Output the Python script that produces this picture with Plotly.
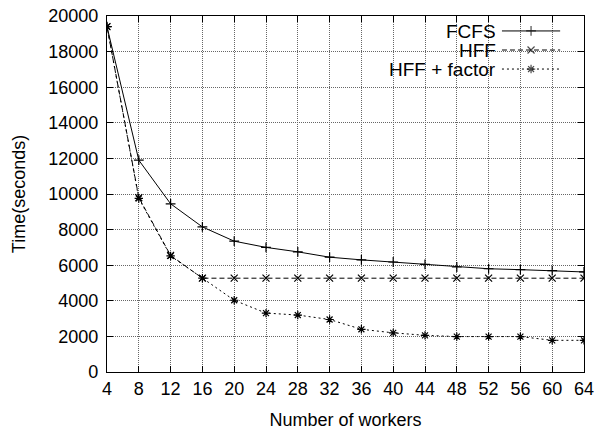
import plotly.graph_objects as go

# Number of worker processes
workers = [4, 8, 12, 16, 20, 24, 28, 32, 36, 40, 44, 48, 52, 56, 60, 64]

# Total completion time (seconds) for each scheduling policy
fcfs = [19400, 11900, 9450, 8150, 7350, 7000, 6750, 6450, 6300, 6180,
        6050, 5900, 5800, 5750, 5700, 5620]
hff = [19400, 9800, 6550, 5270, 5270, 5270, 5270, 5270, 5270, 5270,
       5270, 5270, 5270, 5270, 5270, 5270]
hff_factor = [19400, 9750, 6520, 5270, 4030, 3310, 3200, 2950, 2400, 2200,
              2060, 1990, 1990, 1990, 1780, 1780]

series_names = ["FCFS", "HFF", "HFF + factor"]
series_values = [fcfs, hff, hff_factor]
x_ticks = list(range(4, 65, 4))
y_ticks = list(range(0, 20001, 2000))

styles = [
    dict(dash="solid", symbol="cross-thin"),
    dict(dash="5px,3px", symbol="x-thin"),
    dict(dash="2px,3px", symbol="asterisk"),
]

FONT = "Liberation Sans, Arial, Helvetica, sans-serif"

fig = go.Figure()

for name, vals, st in zip(series_names, series_values, styles):
    fig.add_trace(go.Scatter(
        x=workers, y=vals, name=name, mode="lines+markers",
        line=dict(color="black", width=1, dash=st["dash"]),
        marker=dict(symbol=st["symbol"], size=7, color="black",
                    line=dict(color="black", width=1.2)),
        showlegend=False,
    ))

# Key in the upper right: label on the left, line sample on the right
key_rows = [0.958, 0.9045, 0.851]
for name, st, ky in zip(series_names, styles, key_rows):
    fig.add_trace(go.Scatter(
        x=[0.828, 0.889, 0.950], y=[ky, ky, ky], mode="lines+markers",
        xaxis="x2", yaxis="y2",
        line=dict(color="black", width=1, dash=st["dash"]),
        marker=dict(symbol=st["symbol"], size=[0, 7, 0], color="black",
                    line=dict(color="black", width=1.2)),
        showlegend=False, hoverinfo="skip",
    ))
    fig.add_annotation(
        x=0.818, y=ky, xref="paper", yref="paper", text=name,
        showarrow=False, xanchor="right", yanchor="middle",
        height=18, borderpad=0,
        font=dict(family=FONT, size=19, color="black"),
    )

fig.add_shape(
    type="rect", xref="paper", yref="paper",
    x0=0.537, x1=0.977, y0=0.809, y1=0.997,
    fillcolor="white", line=dict(width=0), layer="between",
)

axis_common = dict(
    automargin=False,
    showline=True, linecolor="black", linewidth=1.2, mirror="ticks",
    ticks="inside", ticklen=6, tickcolor="black", tickwidth=1,
    showgrid=True, gridcolor="#666", gridwidth=1, griddash="1px,1px",
    zeroline=False,
    tickfont=dict(family=FONT, size=18, color="black"),
)

fig.update_layout(
    template="none",
    width=596, height=430,
    margin=dict(l=107, r=12, t=16, b=58),
    paper_bgcolor="white", plot_bgcolor="white",
    font=dict(family=FONT, color="black"),
    xaxis=dict(
        range=[4, 64], tickvals=x_ticks, ticklabelstandoff=0,
        title=dict(text="Number of workers", standoff=16,
                   font=dict(family=FONT, size=18, color="black")),
        **axis_common,
    ),
    yaxis=dict(
        range=[0, 20000], tickvals=y_ticks, tickformat="d",
        ticklabelstandoff=4,
        title=dict(text="Time(seconds)", standoff=17,
                   font=dict(family=FONT, size=18, color="black")),
        **axis_common,
    ),
    xaxis2=dict(range=[0, 1], overlaying="x", visible=False, fixedrange=True),
    yaxis2=dict(range=[0, 1], overlaying="y", visible=False, fixedrange=True),
)

fig.write_html("out.html")
